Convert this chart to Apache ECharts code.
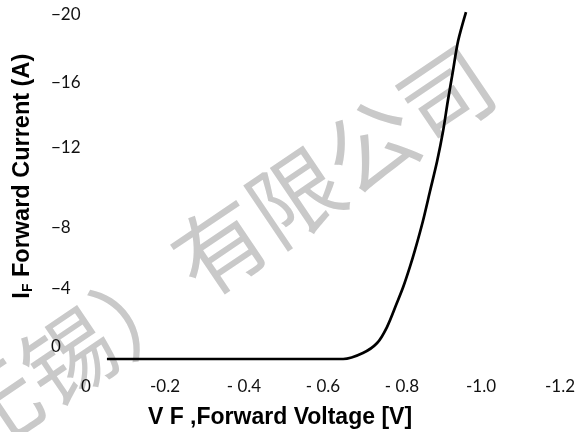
<!DOCTYPE html>
<html>
<head>
<meta charset="utf-8">
<script src="https://cdn.jsdelivr.net/npm/echarts@6/dist/echarts.min.js"></script>
<style>html,body{margin:0;padding:0;background:#fff}#c{width:583px;height:432px}</style>
</head>
<body>
<div id="c"></div>
<script>
// Forward voltage (V) and forward current (A)
var forwardVoltage = [-0.053, -0.30, -0.55, -0.651, -0.701, -0.737, -0.762, -0.787, -0.803, -0.820, -0.833, -0.853, -0.871, -0.889, -0.904, -0.916, -0.929, -0.942, -0.962];
var forwardCurrent = [0, 0, 0, 0, -0.36, -0.96, -1.92, -3.36, -4.32, -5.53, -6.55, -8.29, -10.09, -11.89, -13.69, -15.50, -17.30, -19.10, -20.84];

var xTickValues = [0, -0.2, -0.4, -0.6, -0.8, -1.0, -1.2];
var xTickLabels = ['0', '-0.2', '- 0.4', '- 0.6', '- 0.8', '-1.0', '-1.2'];
var yTickValues = [-20, -16, -12, -8, -4, 0];
var yTickLabels = ['\u221220', '\u221216', '\u221212', '\u22128', '\u22124', '0'];
var yLabelLift = [12, 10, 12, -2, 4, 12];

var watermarkMain = '有限公司';
var watermarkLead = '（无锡）';

var seriesData = forwardVoltage.map(function (v, i) { return [v, forwardCurrent[i]]; });

var rich = {};
yLabelLift.forEach(function (d, i) {
  rich['o' + i] = {
    fontFamily: 'Lato', fontSize: 17, color: '#111',
    padding: d >= 0 ? [0, 0, 2 * d, 0] : [-2 * d, 0, 0, 0]
  };
});

var wmStyle = function (t) {
  return {
    text: t,
    fontFamily: 'Noto Sans CJK SC',
    fontSize: 91,
    fill: '#c9c9c9',
    align: 'center',
    verticalAlign: 'middle'
  };
};

var chart = echarts.init(document.getElementById('c'), null, {renderer: 'canvas'});
chart.setOption({
  animation: false,
  backgroundColor: '#fff',
  grid: {left: 86, right: 23, top: 9.4, bottom: 73, containLabel: false, outerBoundsMode: 'none'},
  graphic: [{
    type: 'text',
    x: 333, y: 171,
    rotation: 34 * Math.PI / 180,
    z: 0,
    silent: true,
    style: wmStyle(watermarkMain)
  }, {
    type: 'text',
    x: 31, y: 382,
    rotation: 34 * Math.PI / 180,
    z: 0,
    silent: true,
    style: wmStyle(watermarkLead)
  }],
  xAxis: {
    type: 'value',
    inverse: true,
    min: -1.2, max: 0, interval: 0.2,
    axisLine: {show: false},
    axisTick: {show: false},
    splitLine: {show: false},
    axisLabel: {
      margin: 19,
      fontFamily: 'Lato', fontSize: 17, color: '#111',
      formatter: function (v) {
        var idx = xTickValues.findIndex(function (t) { return Math.abs(t - v) < 1e-6; });
        return idx >= 0 ? xTickLabels[idx] : '';
      }
    },
    name: 'V F ,Forward Voltage [V]',
    nameLocation: 'middle',
    nameGap: 47,
    nameTextStyle: {
      fontFamily: 'Liberation Sans', fontWeight: 'bold', fontSize: 23, color: '#000',
      padding: [0, 86, 0, 0]
    }
  },
  yAxis: {
    type: 'value',
    inverse: true,
    min: -21, max: 0,
    axisLine: {show: false},
    axisTick: {show: false},
    splitLine: {show: false},
    axisLabel: {
      customValues: yTickValues,
      align: 'left',
      margin: 35,
      formatter: function (v) {
        var idx = yTickValues.findIndex(function (t) { return Math.abs(t - v) < 1e-6; });
        return idx >= 0 ? '{o' + idx + '|' + yTickLabels[idx] + '}' : '';
      },
      rich: rich
    },
    name: '{m|I}{s|F}{m| Forward Current (A)}',
    nameLocation: 'middle',
    nameRotate: 90,
    nameGap: 51,
    nameTextStyle: {
      padding: [0, 0, 0, 16],
      rich: {
        m: {fontFamily: 'Liberation Sans', fontWeight: 'bold', fontSize: 23.5, color: '#000'},
        s: {fontFamily: 'Liberation Sans', fontWeight: 'bold', fontSize: 14, color: '#000', verticalAlign: 'bottom', padding: [8, 0, 0, 0]}
      }
    }
  },
  series: [{
    type: 'line',
    data: seriesData,
    smooth: 0.3,
    showSymbol: false,
    clip: false,
    z: 3,
    lineStyle: {color: '#000', width: 2.7}
  }]
});
</script>
</body>
</html>
